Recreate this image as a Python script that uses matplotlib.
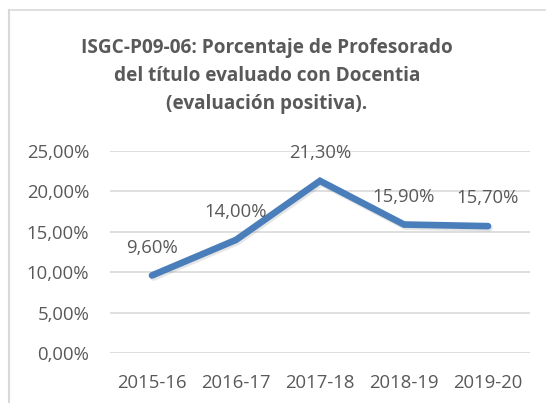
import matplotlib
matplotlib.use('Agg')
import matplotlib.pyplot as plt
import matplotlib.patheffects as pe
from matplotlib.ticker import FuncFormatter

# data
cursos = ['2015-16', '2016-17', '2017-18', '2018-19', '2019-20']
porcentajes = [9.60, 14.00, 21.30, 15.90, 15.70]
y_ticks = [0, 5, 10, 15, 20, 25]
titulo = ('ISGC-P09-06: Porcentaje de Profesorado\n'
          'del título evaluado con Docentia\n'
          '(evaluación positiva).')

plt.rcParams['font.family'] = ['Open Sans', 'DejaVu Sans']
gris = '#595959'
azul = '#4A7EBB'

W, H = 547, 403
fig = plt.figure(figsize=(W / 100, H / 100), dpi=100)

# chart frame (only left and top edges are visible in the crop)
fig.add_artist(plt.Line2D([8.5 / W, 8.5 / W], [0, 1 - 10 / H], transform=fig.transFigure,
                          color='#D9D9D9', lw=1.5))
fig.add_artist(plt.Line2D([8.5 / W, 545 / W], [1 - 10 / H, 1 - 10 / H], transform=fig.transFigure,
                          color='#D9D9D9', lw=1.2))

# plot area: x 110..530, y 151..353 (pixels)
ax = fig.add_axes([110 / W, 1 - 353 / H, 420 / W, 202 / H])
x = list(range(len(cursos)))
ax.plot(x, porcentajes, color=azul, lw=4.8, solid_capstyle='round', solid_joinstyle='miter',
        path_effects=[pe.SimpleLineShadow(offset=(1, -1.5), shadow_color='#808080', alpha=0.2),
                      pe.Normal()], zorder=3)

for xi, v in zip(x, porcentajes):
    ax.annotate(f'{v:.2f}%'.replace('.', ','), (xi, v), xytext=(0, 20), textcoords='offset points',
                ha='center', va='center', fontsize=13.3, color=gris)

ax.set_xlim(-0.5, len(cursos) - 0.5)
ax.set_ylim(0, 25)
ax.set_yticks(y_ticks)
ax.yaxis.set_major_formatter(FuncFormatter(lambda v, p: f'{v:.2f}%'.replace('.', ',')))
ax.set_xticks(x)
ax.set_xticklabels(cursos)
ax.tick_params(length=0, labelsize=13.3, labelcolor=gris)
ax.tick_params(axis='y', pad=15)
ax.tick_params(axis='x', pad=15)
ax.grid(axis='y', color='#D9D9D9', lw=1.2)
ax.set_axisbelow(True)
for s in ax.spines.values():
    s.set_visible(False)

fig.text(267 / W, 1 - 76 / H, titulo, ha='center', va='center', fontsize=13.7, fontweight='bold',
         color=gris, linespacing=1.5)

fig.savefig('out.png', dpi=100)
